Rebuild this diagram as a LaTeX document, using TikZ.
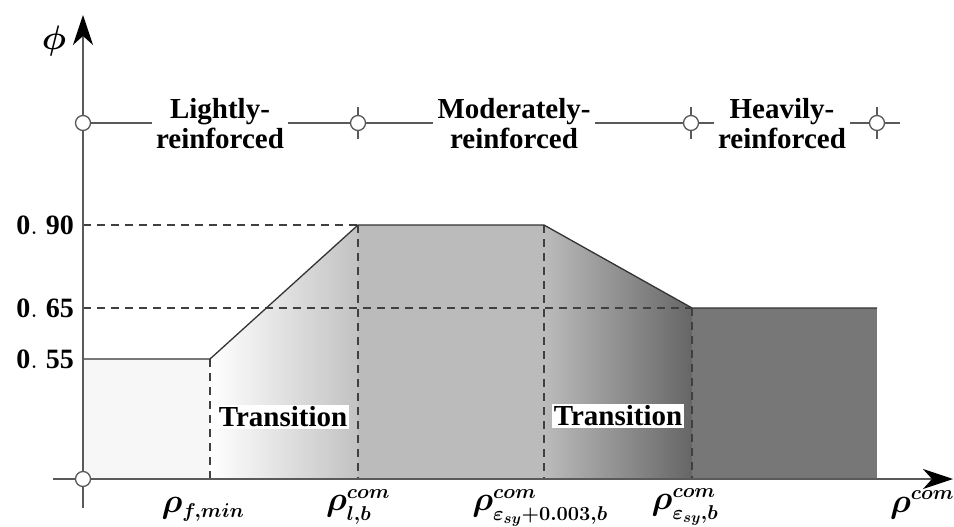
\RequirePackage{fix-cm}
\documentclass[tikz,border=0pt]{standalone}
\usepackage{amsmath,amssymb}
\usepackage{fontspec}
\setmainfont{Liberation Serif}
\DeclareMathSizes{34}{34}{20}{15}
\usetikzlibrary{arrows.meta}
\definecolor{axisgray}{HTML}{5A5A5A}
\definecolor{fillL}{HTML}{F7F7F7}
\definecolor{fillM}{HTML}{BBBBBB}
\definecolor{fillMT}{HTML}{C2C2C2}
\definecolor{fillH}{HTML}{777777}
\definecolor{fillHT}{HTML}{666666}
\begin{document}
\begin{tikzpicture}[x=1pt,y=-1pt,
  axis/.style={draw=axisgray, line width=1.5pt},
  guide/.style={draw=black!75, dash pattern=on 8pt off 6pt, line width=1.1pt},
  outline/.style={draw=black!80, line width=1.3pt},
  ring/.style={circle, draw=axisgray, fill=white, line width=1.3pt, minimum size=15pt, inner sep=0pt},
  cls/.style={font=\fontsize{29}{30}\selectfont\bfseries, align=center, inner xsep=4pt, inner ysep=0pt},
  trans/.style={fill=white, font=\fontsize{29}{30}\selectfont\bfseries, inner xsep=2pt, inner ysep=2pt},
  val/.style={font=\fontsize{28}{32}\selectfont, anchor=east, inner sep=0pt},
  rl/.style={font=\fontsize{34}{38}\selectfont, inner sep=0pt},
  tip/.style={-{Stealth[length=30pt,width=20pt,inset=9pt,color=black]}}
]
\useasboundingbox (0,0) rectangle (954,527);
% key points
\coordinate (O) at (83,479);
\coordinate (A) at (83,359);
\coordinate (B) at (210,359);
\coordinate (C) at (358,225);
\coordinate (D) at (544,225);
\coordinate (E) at (692,308);
\coordinate (F) at (877,308);
\coordinate (Bb) at (210,479);
\coordinate (Cb) at (358,479);
\coordinate (Db) at (544,479);
\coordinate (Eb) at (692,479);
\coordinate (Fb) at (877,479);
\coordinate (y90) at (83,225);
\coordinate (y65) at (83,308);
% fills
\fill[fillL] (O) -- (A) -- (B) -- (Bb) -- cycle;
\shade[left color=white, right color=fillMT] (Bb) -- (B) -- (C) -- (Cb) -- cycle;
\fill[fillM] (Cb) -- (C) -- (D) -- (Db) -- cycle;
\shade[left color=fillM, right color=fillHT] (Db) -- (D) -- (E) -- (Eb) -- cycle;
\fill[fillH] (Eb) -- (E) -- (F) -- (Fb) -- cycle;
% guides
\draw[guide] (y90) -- (C);
\draw[guide] (y65) -- (E);
\draw[guide] (B) -- (Bb);
\draw[guide] (C) -- (Cb);
\draw[guide] (D) -- (Db);
\draw[guide] (E) -- (Eb);
% outline
\draw[outline] (A) -- (B) -- (C) -- (D) -- (E) -- (F);
% axes
\coordinate (ytop) at (83,15);
\coordinate (ybot) at (83,508);
\coordinate (xl) at (53,479);
\coordinate (xr) at (953,479);
\draw[axis, tip] (ybot) -- (ytop);
\draw[axis, tip] (xl) -- (xr);
\node[ring] (c00) at (O) {};
% classification line
\node[ring] (c0) at (83,123) {};
\node[ring] (c1) at (358,123) {};
\node[ring] (c2) at (691,123) {};
\node[ring] (c3) at (877,123) {};
\coordinate (cend) at (900,123);
\node[cls] (tL) at (220,124) {Lightly-\\reinforced};
\node[cls] (tM) at (514,124) {Moderately-\\reinforced};
\node[cls] (tH) at (782,124) {Heavily-\\reinforced};
\draw[axis] (c0) -- (tL.west |- c0);
\draw[axis] (tL.east |- c1) -- (c1);
\draw[axis] (c1) -- (tM.west |- c1);
\draw[axis] (tM.east |- c2) -- (c2);
\draw[axis] (c2) -- (tH.west |- c2);
\draw[axis] (tH.east |- c3) -- (c3);
\draw[axis] (c3) -- (cend);
\foreach \c in {c1,c2,c3}{
  \draw[axis] (\c.north) -- ++(0,-8);
  \draw[axis] (\c.south) -- ++(0,8);
}
% transition labels
\node[trans] (tr1) at (283,417) {Transition};
\node[trans] (tr2) at (618,416) {Transition};
% axis labels
\node[rl] (phi) at (54,41) {$\boldsymbol{\phi}$};
\node[val] (v90) at (74,225) {$\mathbf{0.}\;\mathbf{90}$};
\node[val] (v65) at (74,308) {$\mathbf{0.}\;\mathbf{65}$};
\node[val] (v55) at (74,359) {$\mathbf{0.}\;\mathbf{55}$};
\node[rl] (r1) at (203,509) {$\boldsymbol{\rho_{f,min}}$};
\node[rl] (r2) at (358,507) {$\boldsymbol{\rho^{com}_{l,b}}$};
\node[rl] (r3) at (540,508) {$\boldsymbol{\rho^{com}_{\varepsilon_{sy}+0.003,b}}$};
\node[rl] (r4) at (685,507) {$\boldsymbol{\rho^{com}_{\varepsilon_{sy},b}}$};
\node[rl] (r5) at (922,505) {$\boldsymbol{\rho^{com}}$};
\end{tikzpicture}
\end{document}
